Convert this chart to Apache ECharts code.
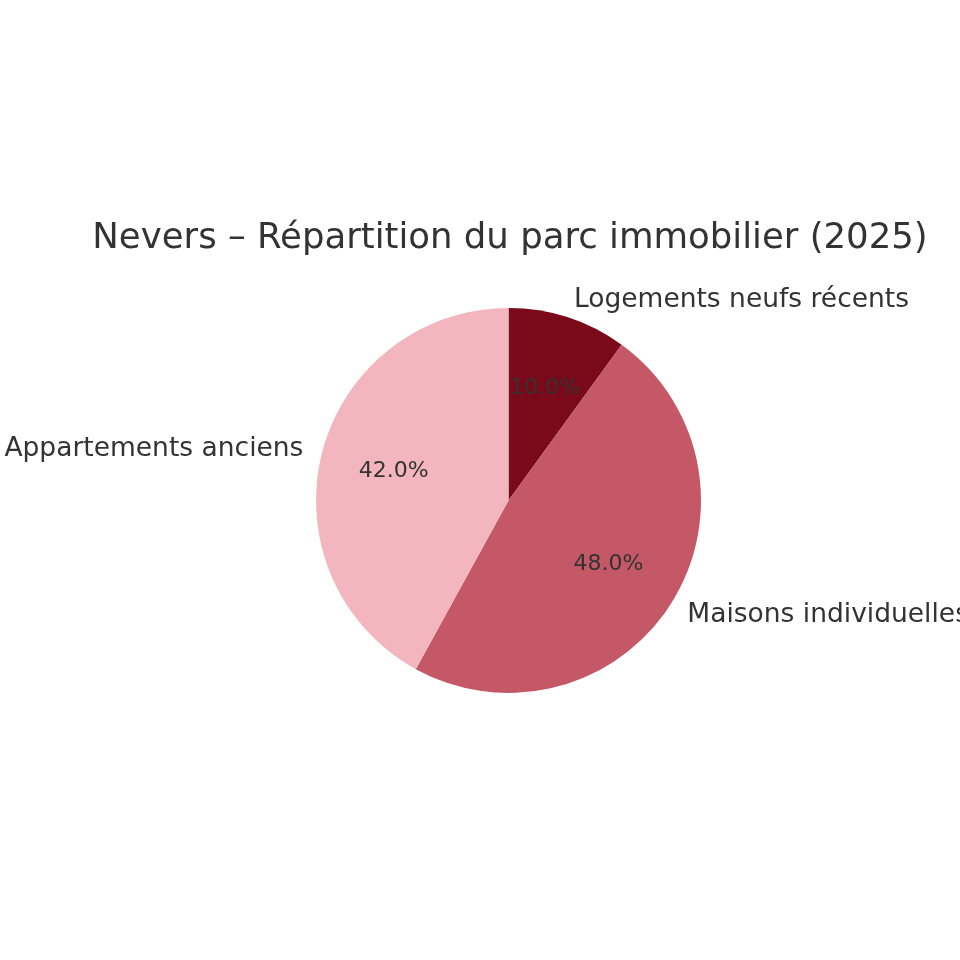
<!DOCTYPE html>
<html>
<head>
<meta charset="utf-8">
<script src="https://cdn.jsdelivr.net/npm/echarts@6/dist/echarts.min.js"></script>
<style>
  html, body { margin: 0; padding: 0; background: #fff; }
  #chart { width: 960px; height: 960px; }
</style>
</head>
<body>
<div id="chart"></div>
<script>
var categories = ['Logements neufs récents', 'Maisons individuelles', 'Appartements anciens'];
var values = [10, 48, 42];
var colors = ['#7a0a1a', '#c45866', '#f3b6be'];

var R = 192.5;
var center = [508.5, 500.5];
var font = 'DejaVu Sans';

var pieData = categories.map(function (name, i) {
  return { name: name, value: values[i], itemStyle: { color: colors[i] } };
});
var total = values.reduce(function (a, b) { return a + b; }, 0);

var myChart = echarts.init(document.getElementById('chart'));
myChart.setOption({
  backgroundColor: '#fff',
  animation: false,
  title: {
    text: 'Nevers – Répartition du parc immobilier (2025)',
    left: 505,
    top: 234,
    textAlign: 'center',
    textVerticalAlign: 'middle',
    textStyle: { fontFamily: font, fontSize: 35.5, fontWeight: 'normal', color: '#333333' }
  },
  series: [
    {
      // slices + category labels outside (1.1 r)
      type: 'pie',
      center: center,
      radius: [0, R],
      startAngle: 90,
      clockwise: true,
      avoidLabelOverlap: false,
      silent: true,
      data: pieData,
      label: {
        show: true,
        position: 'outside',
        distanceToLabelLine: 0,
        overflow: 'none',
        fontFamily: font,
        fontSize: 26.5,
        color: '#333333',
        offset: [0, 1],
        formatter: '{b}'
      },
      labelLine: { show: false, length: R * 0.1, length2: 0 }
    },
    {
      // transparent pie, inner labels land at 0.6 r
      type: 'pie',
      center: center,
      radius: [0, R * 1.2],
      startAngle: 90,
      clockwise: true,
      silent: true,
      data: pieData.map(function (d) { return { name: d.name, value: d.value }; }),
      itemStyle: { color: 'rgba(0,0,0,0)' },
      label: {
        show: true,
        position: 'inside',
        fontFamily: font,
        fontSize: 22,
        color: '#333333',
        formatter: function (p) { return (p.value / total * 100).toFixed(1) + '%'; }
      },
      labelLine: { show: false }
    }
  ]
});
</script>
</body>
</html>
